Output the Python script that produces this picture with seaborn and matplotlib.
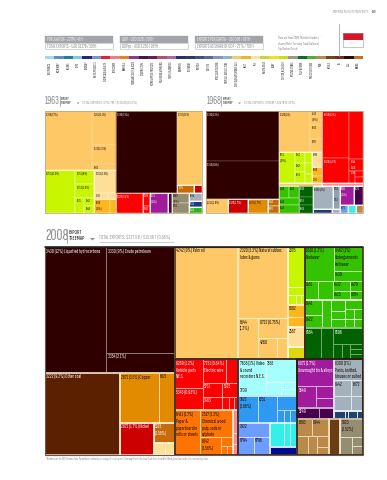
import numpy as np
import matplotlib
matplotlib.use("Agg")
import matplotlib.pyplot as plt
from matplotlib import font_manager as fm
from matplotlib.colors import ListedColormap, to_rgb
from matplotlib.patches import Rectangle, Polygon
import seaborn as sns

sns.set_theme(style="white")
names = {f.name for f in fm.fontManager.ttflist}
NARROW = next((n for n in ["Sofia Sans Extra Condensed", "Saira ExtraCondensed", "Roboto Condensed", "Liberation Sans"]
               if n in names), "DejaVu Sans")
plt.rcParams["font.family"] = [NARROW, "DejaVu Sans"]

# ---------- legend strip ----------
strip_names = ["ELECTRONICS", "MACHINERY", "BOILERS", "SHIPS", "AIRCRAFT", "METAL PRODUCTS",
               "CHEMICALS & HEALTH", "PETROCHEM", "MINERALS", "INORGANIC SALTS & ACIDS", "CONSTRUCTION",
               "HOME & OFFICE PRODUCTS", "PACKAGING & PRINTING", "TEXTILE & FABRICS", "GARMENTS", "FOOTWEAR",
               "LEATHER", "CARPETS", "MISC. AGRICULTURE", "TROPICAL AGRICULTURE", "CEREALS & VEGETABLE OILS",
               "FRUIT", "FISH", "MEAT & EGGS", "DAIRY", "COTTON, RICE & SOY",
               "MILLING STONES", "PULP & PAPER", "PRECIOUS STONES", "IRON", "METALS",
               "OIL", "COAL", "MINING"]
strip_colors = ["#a3d8e8", "#5a90c4", "#1f7fa3", "#80cbdd", "#24297c", "#7c94cd", "#d8282d", "#ee7c82",
                "#e98024", "#90398f", "#47144a", "#6b1a5c", "#b34f70", "#a96aa6", "#2a2f70", "#2c3a66",
                "#3f5378", "#5c6b8c", "#8f90c9", "#94b2c4", "#f6ca6b", "#efb52a", "#fbe19b", "#c6d636",
                "#f1e11c", "#c9dc22", "#9c9a82", "#0e6b2e", "#50ae30", "#b98b4b", "#6b4a23", "#7a2c1b",
                "#2e0a07", "#c5702a"]

# ---------- palette ----------
TAN, LIME, PALE, GOLD, YEL = "#fdc865", "#c8f500", "#fddf98", "#fdb71c", "#dfd70c"
OIL, COAL, COPPER, NICKEL, OCHRE = "#2e0000", "#5a2000", "#e38b00", "#cc0000", "#c86a08"
RED, PINK, ORANGE = "#ff0000", "#ff8a8a", "#ff7300"
CYAN, AZURE, PERI, TURQ, NAVY = "#a6ffff", "#2e98f2", "#6e9cff", "#33f0ea", "#000a8c"
PURPLE, PLUM, SLATE, SLATE2, BROWN, DBROWN, KHAKI = "#a01c9c", "#48004e", "#a3b1bc", "#8fa2b4", "#b98a4a", "#6a3d12", "#958d70"
GREEN, DGREEN = "#33c300", "#006200"

# ---------- 2008 export shares (% of total; nested lists are sub-groups) ----------
oil08 = [11.6, [10.9, 2.1]]
coal08 = [9.2]
metal08 = [[2.95, 1.2]]
nickel08 = [1.65]
ochre08 = [0.64]
tile08 = [0.2, 0.18]
palm08 = [10.7]
rubber08 = [5.26, [1.24, [0.88, [0.6, 0.32]]]]
lime08 = [1.03, 0.2, [0.13, 0.07, 0.06]]
gold08 = [0.3, 0.27]
pale08 = [0.51]
yel08 = [0.31]
green08a = [[1.49, [1.05, 0.44]], [0.37, 0.43, [0.26, 0.23], [0.2, 0.18]]]
green08b = [[0.41, 0.35], 0.38, [0.22, 0.17, 0.2], [0.25, [0.13, 0.14], [0.12, 0.12]]]
dgreen08 = [0.75, 0.57, [0.68, [0.2, 0.2, [0.1, 0.1, 0.1]]]]
red08 = [[1.23, 0.93], [[0.8, 0.45], [[0.4, 0.4], [0.34, [0.14, 0.1, 0.1]]]]]
orange08 = [1.7, [1.3, [0.54, [0.16, [0.08, 0.08]]]]]
pink08 = [0.2, 0.1, 0.1]
cyan08 = [1.51, [1.08, [0.32, [0.17, 0.17]]]]
azure08 = [0.78, 0.78, [0.42, [0.14, 0.12, 0.14]]]
peri08 = [0.66, [0.41, 0.44]]
turq08 = [[0.5, 0.24, 0.24]]
navy08 = [0.33]
purple08 = [1.51, [0.6, [0.3, 0.27]]]
plum08 = [0.37, 0.25]
slate08 = [0.92, [[0.39, 0.39], [0.27, 0.27]]]
navy08b = [0.13, 0.04, 0.11, 0.07]
tan08 = [[0.39, 0.44], [0.3, 0.25, [0.18, 0.15]]]
dbrown08 = [0.65]
khaki08 = [0.63, [0.3, [0.15, 0.15]]]

# ---------- 1963 export shares ----------
tan63 = [17.3, [4.9, 2.8, 0.8]]
lime63 = [8.1, [1.66, 1.66, [0.84, [0.5, 0.44]]]]
pale63 = [3.0, [0.6, 0.3]]
gold63 = [1.3, 0.5]
oil63 = [31.3]
tan63b = [11.3]
ochre63 = [0.8]
red63b = [0.4]
red63 = [3.4]
red63c = [0.57, 0.3]
purple63 = [2.25]
plum63 = [0.5]
khaki63 = [1.06, 1.06]
slate63 = [0.65]
navy63 = [0.49]
green63 = [0.49]

# ---------- 1968 export shares ----------
oil68 = [22.8, 17.3]
tan68a = [1.9]
red68a = [1.75]
copper68 = [1.75]
ochre68 = [0.48, 0.48]
tan68 = [7.9, [1.05, 1.05, 0.98]]
lime68 = [3.1, [0.7, 0.6, 0.7], [0.5, 0.5, 0.4]]
pale68 = [1.0]
gold68 = [0.6, 0.44]
tanbar68 = [0.8]
red68 = [[7.9, 4.2], [4.1, 1.05, [0.4, [0.3, 0.3]]]]
pink68 = [0.77]
green68 = [[0.75, 0.75], 0.85, 1.0]
dgreen68 = [1.0, 0.7, 0.66]
slate68 = [2.85]
slate68b = [1.05]
navy68 = [0.45]
peri68 = [0.2]
purple68 = [1.66]
plum68 = [1.07]
azure68 = [0.4]
turq68 = [0.4]
brown68 = [0.35]


# ---------- layout from the values ----------
class B:
    def __init__(self, color, vals, labels=None, d="h", edge="#ffffff"):
        self.color, self.vals, self.labels, self.d, self.edge = color, vals, labels or {}, d, edge


class N:
    def __init__(self, d, *kids, frame=None):
        self.d, self.kids, self.frame = d, kids, frame


def H(*k, frame=None):
    return N("h", *k, frame=frame)


def V(*k, frame=None):
    return N("v", *k, frame=frame)


def tot(x):
    if isinstance(x, B):
        return tot(x.vals)
    if isinstance(x, N):
        return sum(tot(k) for k in x.kids)
    if isinstance(x, (list, tuple)):
        return sum(tot(k) for k in x)
    return float(x)


def luminous(c):
    r, g, b = to_rgb(c)
    return 0.3 * r + 0.59 * g + 0.11 * b


def slice_rects(items, r, d):
    x, y, w, h = r
    t = sum(tot(i) for i in items)
    pos = 0.0
    for it in items:
        f = tot(it) / t
        if d == "h":
            yield it, (x + pos * w, y, f * w, h)
        else:
            yield it, (x, y + pos * h, w, f * h)
        pos += f


def draw_vals(ax, vals, r, d, blk, counter, fs, lw):
    for it, rr in slice_rects(vals, r, d):
        if isinstance(it, list):
            draw_vals(ax, it, rr, "v" if d == "h" else "h", blk, counter, fs, lw)
        else:
            ax.add_patch(Rectangle(rr[:2], rr[2], rr[3], fc=blk.color, ec=blk.edge, lw=lw * 0.55,
                                   alpha=1, zorder=2))
            txt = blk.labels.get(counter[0])
            if txt:
                tc = "#1c1008" if luminous(blk.color) > 0.5 else "#ffffff"
                ax.text(rr[0] + ax.pad[0], rr[1] + ax.pad[1], txt, fontsize=fs, color=tc, va="top", ha="left",
                        linespacing=1.45, zorder=6, clip_on=False)
            counter[0] += 1


def draw(ax, node, r, fs, lw, frames):
    if isinstance(node, B):
        draw_vals(ax, node.vals, r, node.d, node, [0], fs, lw)
        frames.append((r, node.edge, lw))
    else:
        for it, rr in slice_rects(node.kids, r, node.d):
            draw(ax, it, rr, fs, lw, frames)
        if node.frame:
            frames.append((r, node.frame, lw * 1.1))


DARK = "#2a1c12"
tree08 = H(
    V(B(OIL, oil08, {0: "3430 (12%) Liquefied hydrocarbons", 1: "3330 (9%) Crude petroleum", 2: "3354 (2.1%)"},
        edge="#9a8278"),
      H(B(COAL, coal08, {0: "3222 (9.2%) Other coal"}, edge="#f2d4c4"),
        V(B(COPPER, metal08, {0: "2871 (3.5%) Copper", 1: "6821"}, d="v", edge="#fde8b0"),
          H(B(NICKEL, nickel08, {0: "2872 (1.7%) Nickel"}, edge="#f8e4d4"),
            V(B(OCHRE, ochre08, {0: "5325\n(0.58%)"}, edge="#f8e4d4"),
              B(PALE, tile08, edge="#fff4d8")))))),
    V(H(H(B(TAN, palm08, {0: "4242 (9%) Palm oil"}, edge=TAN),
          B(TAN, rubber08, {0: "2320 (5.3%) Natural rubber,\nlatex & gums", 1: "6344\n(1.2%)",
                            2: "8722 (0.75%)", 3: "4260"}, d="v", edge="#fff0cc"),
          V(B(LIME, lime08, {0: "2376"}, d="v", edge="#f4ffcc"),
            B(GOLD, gold08, {0: "8082"}, d="v", edge="#ffe9b8"),
            B(PALE, pale08, {0: "2567"}, edge="#fff4d8"),
            B(YEL, yel08, edge="#fffbe0")), frame="#4a3a1c"),
        V(V(B(GREEN, green08a, {0: "8510 (1.2%)\nFootwear", 1: "8462 (1%)\nUndergarments\nknit/wear", 2: "8439",
                                3: "8451", 5: "8432", 7: "8479", 6: "8423", 8: "6304"}, d="v", edge="#c8f0b0"),
            B(GREEN, green08b, {0: "8441", 1: "8422"}, edge="#e4ffd8")),
          B(DGREEN, dgreen08, {0: "6584", 2: "6506"}, edge="#7faf70"),
          frame=DARK)),
      H(V(B(RED, red08, {0: "8289 (1.2%)\nVehicle parts\nN.E.S.", 1: "5343 (0.93%)", 2: "7731 (0.84%)\nElectric wire",
                         4: "5231", 6: "5323", 5: "3463"}, edge="#ffb0b0"),
          H(B(ORANGE, orange08, {0: "6411 (1.7%)\nPaper &\npaperboard in\nrolls or sheets",
                                 1: "2517 (1.3%)\nChemical wood\npulp, soda or\nsulphate", 2: "6842\n(0.58%)"},
              edge="#ffd9a8"),
            B(PINK, pink08, d="v", edge="#ffe0e0")),
          frame=DARK),
        V(B(CYAN, cyan08, {0: "7638 (1%) Video\n& sound\nrecorders N.E.S.\n\n7709", 1: "7538"}, edge="#e8ffff"),
          B(AZURE, azure08, {0: "7622\n(0.86%)", 1: "6251"}, edge="#bfe0ff"),
          H(B(PERI, peri08, {0: "2922", 1: "6794", 2: "6796"}, d="v", edge="#d8e4ff"),
            V(B(TURQ, turq08, d="v", edge="#d0fffc"), B(NAVY, navy08, edge="#d0d8ff"))),
          frame=DARK),
        V(H(V(B(PURPLE, purple08, {0: "6871 (1.7%)\nUnwrought tin & alloys", 1: "5849"}, d="v", edge="#e0b8e0"),
              B(PLUM, plum08, {0: "5249"}, edge="#c8a8cc")),
            V(B(SLATE, slate08, {0: "8300 (1%)\nPants, knitted,\nblouses or suited", 1: "8442", 3: "6372"},
                d="v", edge="#e4ecf0"),
              B("#23406e", navy08b, edge="#e8eef8")), frame=DARK),
          H(B(BROWN, tan08, {0: "6383", 1: "8944"}, d="v", edge="#f0dcb8"),
            B(DBROWN, dbrown08, edge="#f0dcb8"),
            B(KHAKI, khaki08, {0: "5923\n(0.52%)"}, d="v", edge="#e8e4d0")), frame=DARK))))

tree63 = H(
    V(B(TAN, tan63, {0: "2309 (17%)", 1: "3201 (5.1%)", 2: "6302 (3.3%)", 3: "3202"}, edge="#ffe4a8"),
      H(B(LIME, lime63, {0: "0251 (13.2%)", 1: "0751 (8%)", 2: "0753 (3.8%)", 3: "0515", 4: "0542", 5: "0548"},
          edge="#f4ffcc"),
        V(B(PALE, pale63, {0: "0741 (3.5%)", 1: "1210"}, d="v", edge="#fff4d8"),
          B(GOLD, gold63, {0: "0900\n(1.3%)"}, edge="#ffe9b8")))),
    V(H(B(OIL, oil63, {0: "3330 (33%)"}, edge="#7a4a40"),
        V(B(TAN, tan63b, {0: "2317 (11%)"}, edge="#ffe4a8"),
          H(B(OCHRE, ochre63, {0: "2871"}), B(NICKEL, red63b)))),
      H(B(RED, red63, {0: "2470 (3.4%)"}, edge="#ffb0b0"),
        B(RED, red63c, {0: "2476", 1: "0813"}, d="v", edge="#ffd0d0"),
        B(PURPLE, purple63, {0: "0511\n(1.4%)"}),
        B(PLUM, plum63),
        B(KHAKI, khaki63, {0: "6880\n(1.2%)", 1: "6751"}, d="v", edge="#e8e4d0"),
        V(B(SLATE, slate63, {0: "6584"}), B("#1a3a7a", navy63, {0: "7341"}), B("#2cb818", green63, {0: "8451"})))))

tree68 = H(
    V(B(OIL, oil68, {0: "3330 (23%)", 1: "3340 (18%)"}, d="v", edge="#8a5a50"),
      H(B(TAN, tan68a, {0: "4241 (1.9%)"}, edge="#ffe4a8"),
        B(NICKEL, red68a, {0: "2320 (1.7%)"}),
        B(COPPER, copper68, {0: "2871 (1.7%)"}),
        B(OCHRE, ochre68, {0: "7842", 1: "6761"}, d="v"))),
    V(H(V(B(TAN, tan68, {0: "2320 (8%)", 1: "4242\n(1.2%)", 2: "6302", 3: "2350"}, edge="#ffe4a8"),
          H(B(LIME, lime68, {0: "0251\n(3.2%)", 1: "0541", 2: "0542", 3: "0753"}, edge="#f4ffcc"),
            V(B(PALE, pale68, {0: "0730"}), B(GOLD, gold68, {0: "0900", 1: "1210"}, d="v", edge="#ffe9b8"))),
          B(TAN, tanbar68)),
        V(B(RED, red68, {0: "6040 (12%)", 1: "2800 (4.1%)", 3: "6344\n2860\n1280"}, edge="#ffa0a0"),
          B(PINK, pink68))),
      H(H(B(GREEN, green68, {0: "8430", 1: "8441", 2: "8442", 3: "8443"}, d="v", edge="#c8f0b0"),
          B(DGREEN, dgreen68, {0: "6530", 1: "6553", 2: "6506"}, d="v", edge="#7faf70")),
        V(H(B(SLATE, slate68, {0: "6880 (3%)"}), B(SLATE2, slate68b, {0: "6751\n\n5851"})),
          H(B("#1c3a78", navy68), B("#a0a8e0", peri68))),
        V(H(B(PURPLE, purple68, {0: "8931\n(1.4%)"}), B(PLUM, plum68, {0: "5621"})),
          H(B("#6a9cff", azure68, {0: "6571"}), B(TURQ, turq68), B(BROWN, brown68))))))

# ---------- figure ----------
W, Hh = 387, 480
fig = plt.figure(figsize=(W / 100, Hh / 100), dpi=100, facecolor="white")


def px_axes(x0, y0, x1, y1, **kw):
    return fig.add_axes([x0 / W, 1 - y1 / Hh, (x1 - x0) / W, (y1 - y0) / Hh], **kw)


deco = px_axes(0, 0, W, Hh)
deco.set_xlim(0, W)
deco.set_ylim(Hh, 0)
deco.axis("off")


def treemap(x0, y0, x1, y1, tree, fs, lw, border, blw):
    ax = px_axes(x0, y0, x1, y1)
    ax.set_xlim(0, 1)
    ax.set_ylim(1, 0)
    ax.axis("off")
    ax.pad = (1.3 / (x1 - x0), 1.4 / (y1 - y0))
    frames = []
    draw(ax, tree, (0, 0, 1, 1), fs, lw, frames)
    for r, c, l in frames:
        ax.add_patch(Rectangle(r[:2], r[2], r[3], fc="none", ec=c, lw=l, zorder=3))
    ax.add_patch(Rectangle((0, 0), 1, 1, fc="none", ec=border, lw=blw, zorder=5, clip_on=False))


treemap(45, 111, 201.7, 213, tree63, 2.7, 0.6, "#b59a6a", 0.5)
treemap(206, 111, 363, 213, tree68, 2.7, 0.6, "#b59a6a", 0.5)
treemap(45, 247, 363, 455, tree08, 4.0, 1.1, "#6a5a4c", 0.8)
deco.plot([45, 363], [247, 247], color="#111111", lw=1.1, zorder=9)

# strip via seaborn heatmap
sax = px_axes(45, 56, 363, 59.3)
sns.heatmap(np.arange(len(strip_colors)).reshape(1, -1), cmap=ListedColormap(strip_colors), cbar=False, ax=sax,
            xticklabels=strip_names, yticklabels=False, linewidths=0)
sax.tick_params(axis="x", length=0, pad=1.6, labelsize=2.4, labelrotation=90, colors="#222222")
sax.xaxis.tick_bottom()

# header boxes
G = "#a2a4a7"
for x0, a, b in [(45, "POPULATION - 227M / 4TH", r"TOTAL EXPORTS - USD \$137B / 30TH"),
                 (120, "GDP - USD 512B / 20TH", "GDPpc - USD 2,250 / 98TH"),
                 (195, "EXPORTS PER CAPITA - USD 598 / 98TH", "EXPORTS AS SHARE OF GDP - 27 % / 70TH")]:
    deco.add_patch(Rectangle((x0, 36), 68, 7.3, fc=G, ec=G, lw=0.3))
    deco.add_patch(Rectangle((x0, 43.3), 68, 6, fc="white", ec="#c4c5c7", lw=0.5))
    deco.text(x0 + 2, 39.8, a, fontsize=3.7, color="#f2f2f2", va="center")
    deco.text(x0 + 2, 46.5, b, fontsize=3.7, color="#8a8c8e", va="center")

# note + flag + page header
deco.plot([276, 323], [35.5, 35.5], color="#cccccc", lw=0.3, ls=":")
deco.text(278, 43.5, "Data are from 2008. Maritime borders\nshown (Note: Territory Trade Balance)\nTop Ranked Totals", fontsize=2.9,
          color="#8a8c8e", va="center", linespacing=1.45)
deco.plot([338.5, 338.5], [24, 56], color="#a8a8a8", lw=0.6)
deco.add_patch(Rectangle((343.3, 33.3), 19.4, 6.7, fc="#d8142a", ec="none"))
deco.add_patch(Rectangle((343.3, 40), 19.4, 6.6, fc="white", ec="none"))
deco.add_patch(Rectangle((343.3, 33.3), 19.4, 13.3, fc="none", ec="#9a9a9a", lw=0.4))
deco.text(333, 11.6, "MAPPING PATHS TO PROSPERITY", fontsize=2.9, color="#9a9a9a", va="center")
deco.text(372, 11.6, "199", fontsize=3.2, color="#222222", va="center", fontweight="bold")


def title(x, y_mid, year, ys, tx, ts, line_x, h, bx, bs, total, tri):
    deco.text(x, y_mid, year, fontsize=ys, color="#8b8d8f", va="center", ha="left")
    deco.plot([line_x, line_x], [y_mid - h / 2, y_mid + h / 2], color="#777777", lw=0.4)
    deco.text(bx, y_mid, "EXPORT\nTREEMAP", fontsize=bs, color="#1a1a1a", va="center", fontweight="bold", linespacing=1.2)
    deco.add_patch(Polygon(tri, fc="#8a8c8e", ec="none"))
    deco.text(tx, y_mid + h * 0.12, total, fontsize=ts, color="#9a9c9e", va="center")


title(45, 101, "1963", 8.0, 82, 3.3, 59.5, 10, 61, 3.0, r"TOTAL EXPORTS: \$732.7M / \$136.8B (0.53%)",
      [(76.5, 102.5), (79.5, 102.5), (78, 104)])
title(206.5, 101, "1968", 8.0, 244, 3.3, 220.5, 10, 222.5, 3.0, r"TOTAL EXPORTS: \$786M / \$247B (0.36%)",
      [(238, 102.5), (241, 102.5), (239.5, 104)])
title(45, 235.5, "2008", 12.0, 99, 4.3, 66.5, 14, 69, 4.6, r"TOTAL EXPORTS: \$137.0 B / \$15.56 T (0.88%)",
      [(90, 238), (95, 238), (92.5, 240.5)])
deco.plot([99, 174], [242, 242], color="#aaaaaa", lw=0.4)

deco.text(46, 459.3, "*Numbers are for 2008 trade values. Parentheses indicate percentage of total exports. Treemap thresholds show "
          "Trade Data from World Bank, based on each cell's community colour.", fontsize=2.4, color="#8a8c8e", va="center")

deco.set_zorder(10)
deco.patch.set_alpha(0)
fig.savefig("out.png", dpi=100, facecolor="white")
